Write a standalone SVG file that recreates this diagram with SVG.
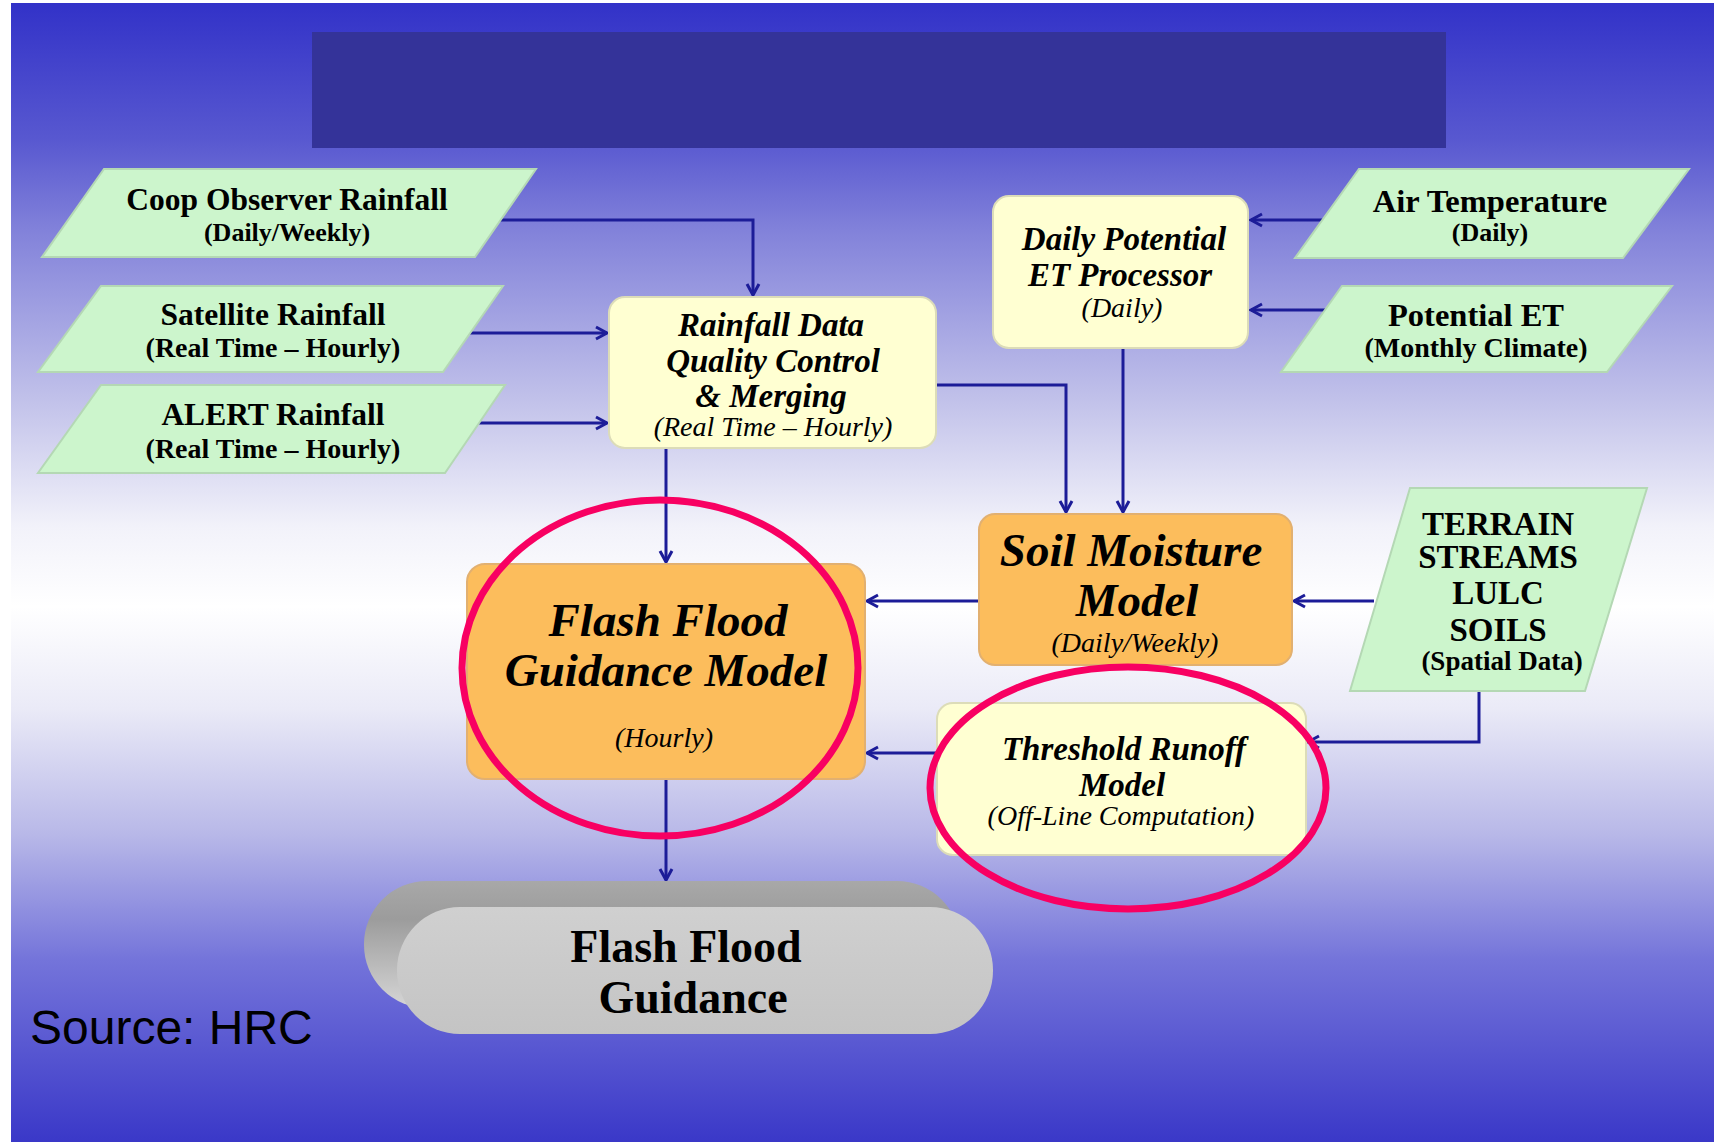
<svg xmlns="http://www.w3.org/2000/svg" width="1714" height="1142" viewBox="0 0 1714 1142">
<defs>
<linearGradient id="bg" x1="0" y1="0" x2="0" y2="1">
<stop offset="0" stop-color="#3232c8"/>
<stop offset="0.12" stop-color="#5858d0"/>
<stop offset="0.2" stop-color="#8282da"/>
<stop offset="0.35" stop-color="#c2c2ea"/>
<stop offset="0.46" stop-color="#f2f2fa"/>
<stop offset="0.53" stop-color="#ffffff"/>
<stop offset="0.62" stop-color="#eaeaf7"/>
<stop offset="0.73" stop-color="#b8b8e8"/>
<stop offset="0.84" stop-color="#7474da"/>
<stop offset="1" stop-color="#3a38c8"/>
</linearGradient>
<linearGradient id="pillBack" x1="0" y1="0" x2="0" y2="1">
<stop offset="0" stop-color="#a8a8a8"/>
<stop offset="0.3" stop-color="#9c9c9c"/>
<stop offset="1" stop-color="#d6d6d6"/>
</linearGradient>
<linearGradient id="pillFront" x1="0" y1="0" x2="0" y2="1">
<stop offset="0" stop-color="#d0d0d0"/>
<stop offset="1" stop-color="#c4c4c4"/>
</linearGradient>
<marker id="arr" markerUnits="userSpaceOnUse" markerWidth="18" markerHeight="18" refX="13" refY="8" orient="auto">
<path d="M2,2 L13,8 L2,14" fill="none" stroke="#1c1c98" stroke-width="3"/>
</marker>
</defs>
<style>
.para{fill:#ccf5cc;stroke:#b4d8b4;stroke-width:2}
.yel{fill:#ffffd2;stroke:#dcdcb8;stroke-width:2}
.org{fill:#fcbd5c;stroke:#e2b070;stroke-width:2}
.tb{font-family:"Liberation Serif",serif;font-weight:bold;fill:#000;text-anchor:middle}
.ti{font-family:"Liberation Serif",serif;font-style:italic;fill:#000;text-anchor:middle}
.tbi{font-family:"Liberation Serif",serif;font-style:italic;font-weight:bold;fill:#000;text-anchor:middle}
.con{fill:none;stroke:#1c1c98;stroke-width:3}
.ring{fill:none;stroke:#f80062;stroke-width:7}
</style>
<rect x="0" y="0" width="1714" height="1142" fill="#ffffff"/>
<rect x="11" y="3" width="1703" height="1139" fill="url(#bg)"/>
<rect x="312" y="32" width="1134" height="116" fill="#343399"/>

<g id="connectors">
<path class="con" d="M481,220 H753 V295" marker-end="url(#arr)"/>
<path class="con" d="M454,333 H607" marker-end="url(#arr)"/>
<path class="con" d="M470,423 H607" marker-end="url(#arr)"/>
<path class="con" d="M936,385 H1066 V512" marker-end="url(#arr)"/>
<path class="con" d="M1123,348 V512" marker-end="url(#arr)"/>
<path class="con" d="M1326,220 H1251" marker-end="url(#arr)"/>
<path class="con" d="M1336,310 H1251" marker-end="url(#arr)"/>
<path class="con" d="M666,448 V562" marker-end="url(#arr)"/>
<path class="con" d="M979,601 H867" marker-end="url(#arr)"/>
<path class="con" d="M1374,601 H1294" marker-end="url(#arr)"/>
<path class="con" d="M1479,691 V742 H1308" marker-end="url(#arr)"/>
<path class="con" d="M937,753 H867" marker-end="url(#arr)"/>
<path class="con" d="M666,779 V880" marker-end="url(#arr)"/>
</g>

<g id="coop">
<polygon class="para" points="104,169 536,169 475,257 42,257"/>
<text class="tb" x="287" y="210" font-size="31.5">Coop Observer Rainfall</text>
<text class="tb" x="287" y="241" font-size="26">(Daily/Weekly)</text>
</g>
<g id="satellite">
<polygon class="para" points="101,286 503,286 443,372 38,372"/>
<text class="tb" x="273" y="325" font-size="31.5">Satellite Rainfall</text>
<text class="tb" x="273" y="357" font-size="28">(Real Time – Hourly)</text>
</g>
<g id="alert">
<polygon class="para" points="101,385 505,385 445,473 38,473"/>
<text class="tb" x="273" y="425" font-size="31.5">ALERT Rainfall</text>
<text class="tb" x="273" y="458" font-size="28">(Real Time – Hourly)</text>
</g>
<g id="airtemp">
<polygon class="para" points="1359,169 1689,169 1623,258 1295,258"/>
<text class="tb" x="1490" y="212" font-size="32.5">Air Temperature</text>
<text class="tb" x="1490" y="241" font-size="26">(Daily)</text>
</g>
<g id="potet">
<polygon class="para" points="1342,286 1672,286 1607,372 1281,372"/>
<text class="tb" x="1476" y="326" font-size="32.5">Potential ET</text>
<text class="tb" x="1476" y="357" font-size="28">(Monthly Climate)</text>
</g>
<g id="terrain">
<polygon class="para" points="1410,488 1647,488 1585,691 1350,691"/>
<text class="tb" x="1498" y="535" font-size="33">TERRAIN</text>
<text class="tb" x="1498" y="568" font-size="33">STREAMS</text>
<text class="tb" x="1498" y="604" font-size="33">LULC</text>
<text class="tb" x="1498" y="641" font-size="33">SOILS</text>
<text class="tb" x="1502" y="670" font-size="27">(Spatial Data)</text>
</g>
<g id="qc">
<rect class="yel" x="609" y="297" width="327" height="151" rx="16"/>
<text class="tbi" x="771" y="336" font-size="33">Rainfall Data</text>
<text class="tbi" x="773" y="372" font-size="33">Quality Control</text>
<text class="tbi" x="771" y="407" font-size="33">&amp; Merging</text>
<text class="ti" x="773" y="436" font-size="28">(Real Time – Hourly)</text>
</g>
<g id="dailyet">
<rect class="yel" x="993" y="196" width="255" height="152" rx="16"/>
<text class="tbi" x="1124" y="250" font-size="33">Daily Potential</text>
<text class="tbi" x="1120" y="286" font-size="33">ET Processor</text>
<text class="ti" x="1122" y="317" font-size="28">(Daily)</text>
</g>
<g id="soil">
<rect class="org" x="979" y="514" width="313" height="151" rx="16"/>
<text class="tbi" x="1131" y="566" font-size="47">Soil Moisture</text>
<text class="tbi" x="1137" y="616" font-size="47">Model</text>
<text class="ti" x="1135" y="652" font-size="28">(Daily/Weekly)</text>
</g>
<g id="ffg">
<rect class="org" x="467" y="564" width="398" height="215" rx="18"/>
<text class="tbi" x="668" y="636" font-size="47">Flash Flood</text>
<text class="tbi" x="666" y="686" font-size="47">Guidance Model</text>
<text class="ti" x="664" y="747" font-size="28">(Hourly)</text>
</g>
<g id="threshold">
<rect class="yel" x="937" y="703" width="369" height="152" rx="16"/>
<text class="tbi" x="1124" y="760" font-size="33">Threshold Runoff</text>
<text class="tbi" x="1122" y="796" font-size="33">Model</text>
<text class="ti" x="1121" y="825" font-size="28">(Off-Line Computation)</text>
</g>
<g id="guidance">
<rect x="364" y="881" width="596" height="127" rx="63" fill="url(#pillBack)"/>
<rect x="397" y="907" width="596" height="127" rx="63" fill="url(#pillFront)"/>
<text class="tb" x="686" y="962" font-size="46">Flash Flood</text>
<text class="tb" x="693" y="1013" font-size="46">Guidance</text>
</g>
<g id="highlights">
<ellipse class="ring" cx="660" cy="668" rx="198" ry="168"/>
<ellipse class="ring" cx="1128" cy="788" rx="198" ry="121"/>
</g>
<text x="30" y="1044" font-family="Liberation Sans, Arial, sans-serif" font-size="48" fill="#000">Source: HRC</text>
</svg>
